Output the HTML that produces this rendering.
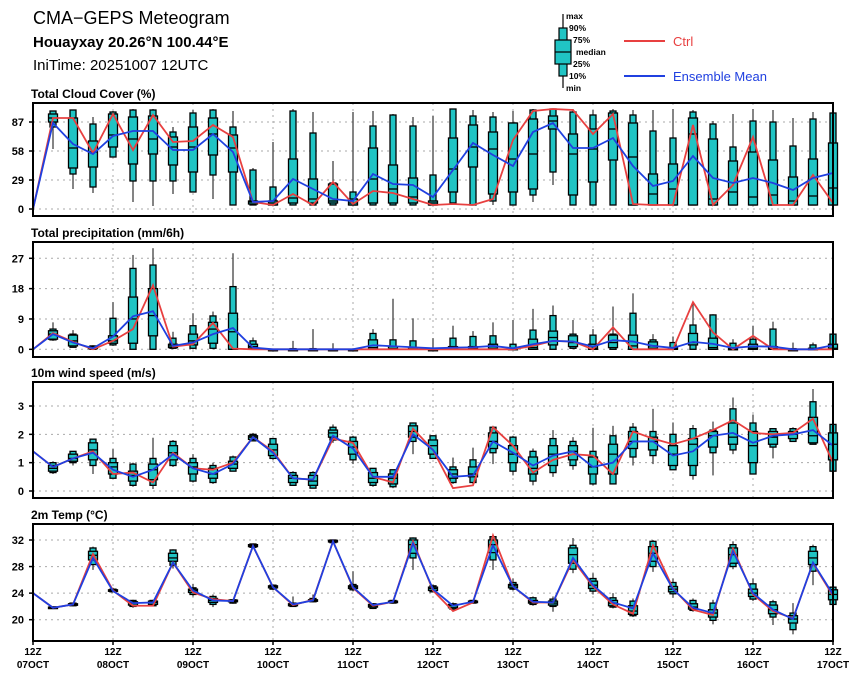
<!DOCTYPE html>
<html><head><meta charset="utf-8"><style>
body{margin:0;background:#fff;font-family:"Liberation Sans",sans-serif}
svg text{font-family:"Liberation Sans",sans-serif}
</style></head><body>
<svg id="c" width="860" height="680" xmlns="http://www.w3.org/2000/svg">
<text x="33" y="24" font-size="18">CMA−GEPS Meteogram</text>
<text x="33" y="47" font-size="15" font-weight="bold">Houayxay 20.26°N 100.44°E</text>
<text x="33" y="70" font-size="15">IniTime: 20251007 12UTC</text>
<g>
 <line x1="563" y1="14" x2="563" y2="88" stroke="#000" stroke-width="1.2"/>
 <rect x="559" y="28" width="8" height="48" fill="#20c4c4" stroke="#000" stroke-width="1.2"/>
 <rect x="555" y="40" width="16" height="24" fill="#20c4c4" stroke="#000" stroke-width="1.2"/>
 <line x1="555" y1="52" x2="571" y2="52" stroke="#000" stroke-width="1.2"/>
 <g font-size="8.5" font-weight="bold">
 <text x="566" y="19">max</text><text x="569" y="31">90%</text><text x="573" y="43">75%</text>
 <text x="576" y="55">median</text><text x="573" y="67">25%</text><text x="569" y="79">10%</text><text x="566" y="91">min</text></g>
 <line x1="624" y1="41" x2="665" y2="41" stroke="#e84040" stroke-width="2"/>
 <text x="673" y="46" font-size="13" fill="#e84040">Ctrl</text>
 <line x1="624" y1="76" x2="665" y2="76" stroke="#2040e0" stroke-width="2"/>
 <text x="673" y="81" font-size="13" fill="#2040e0">Ensemble Mean</text>
</g>
</svg>
<script>
const dayLabels=["07OCT","08OCT","09OCT","10OCT","11OCT","12OCT","13OCT","14OCT","15OCT","16OCT","17OCT"];
const cloudTicks=[0,29,58,87];
const cloudCtrl=[0,91,91,56,95,59,94,67,68,84,72,7,4,15,4,27,5,18,16,10,4,5,4,10,69,98,100,99,75,95,5,4,4,84,4,24,72,4,4,34,6];
const cloudMean=[0,86,65,55,73,78,78,59,59,75,57,7,8,30,20,10,8,35,25,24,12,39,66,54,43,77,86,61,61,71,43,23,28,53,31,26,31,26,19,31,36];
const cloudBox=[null,[60,82,87,91,95,98,98],[20,35,41,61,91,99,99],[16,22,42,57,68,85,92],[52,52,62,74,95,97,98],[7,28,45,70,92,99,100],[3,28,55,70,93,99,100],[15,28,44,62,72,77,82],[17,17,37,62,82,96,99],[10,34,54,75,91,99,100],[4,4,37,61,74,82,98],[4,4,5,7,8,39,41],[4,4,4,6,8,22,67],[4,4,6,11,50,98,100],[4,4,6,10,30,76,97],[4,4,6,8,25,26,48],[4,4,4,6,10,17,97],[4,4,6,30,61,83,98],[4,4,6,20,44,94,95],[4,4,6,12,31,83,92],[4,4,4,6,8,34,93],[4,6,17,40,71,100,100],[4,4,42,62,84,93,99],[4,8,15,60,77,92,97],[4,4,17,50,86,86,98],[7,14,20,55,90,99,100],[24,37,80,88,93,100,100],[4,4,14,55,75,97,100],[4,4,27,60,80,94,99],[4,4,49,80,96,98,100],[4,4,4,52,86,94,99],[4,4,4,15,35,78,99],[4,4,4,20,45,71,100],[4,4,4,75,91,97,99],[4,4,4,10,70,85,88],[4,4,4,17,48,62,95],[4,4,4,12,57,88,100],[4,4,4,14,49,87,99],[4,4,4,8,32,63,91],[4,4,4,13,50,90,97],[4,4,4,21,66,96,96]];
const precTicks=[0,9,18,27];
const precCtrl=[0,4.8,2.2,0,2.5,6,19,0.8,1.5,7.8,0.2,0,0,0,0,0,0,0,0,0,0,0,0,0,0,1,2.5,2.3,0,6.5,0,0,0,14,5,0,4,0,0,0,0];
const precMean=[0,4.5,2,0.3,3.8,9.8,11.3,1,2,4.5,6.3,0.5,0,0,0,0,0,1.2,0.9,0.6,0.3,0.5,0.6,1,0.3,1.5,2.5,2.3,0.8,2.7,2.3,1,0.4,2.2,1.6,0.4,0.9,0.8,0,0,1.2];
const precBox=[null,[2.5,2.8,3,4.5,5.5,6,8],[0.5,0.6,1,2.5,4.2,4.5,5.7],[0,0,0.2,0.5,0.8,1,1.2],[1,1.3,1.8,2.5,4,9.2,14],[0,0,1.8,9,15.5,24,28],[0,0,4,10,18,25,30],[0,0.3,0.5,1,1.5,3.3,5.2],[0,0.3,1.3,2.5,4.5,7,10.7],[0,0.3,1.8,6,8,9.9,11.2],[0,0,0,5.2,10.7,18.6,28.5],[0,0,0.3,0.8,1.5,2.5,3.5],[0,0,0,0,0,0,0.2],[0,0,0,0,0,0.2,2.5],[0,0,0,0,0,0.2,6],[0,0,0,0,0,0,1.8],[0,0,0,0,0,0,0.3],[0,0,0,0.5,2.8,4.7,6],[0,0,0,0.2,0.8,2.8,15],[0,0,0,0,0.5,2.5,9.2],[0,0,0,0,0,0.2,3.3],[0,0,0,0.2,0.8,3.3,7],[0,0,0,0.2,0.8,3.8,5.4],[0,0,0,0.3,1.5,4,8],[0,0,0,0,0.3,1.5,8.7],[0,0,0,0.5,3,5.7,12],[0,0,1.3,3.5,5.4,10,13],[0,0.3,0.8,2,4,4.5,8.7],[0,0,0,0.3,1.5,4.2,6],[0,0,0.5,2,4.2,4.5,12.7],[0,0,0,1,4.2,10.7,16.6],[0,0,0.3,1,2.2,2.8,4.5],[0,0,0,0.2,0.5,2,3.8],[0,0,1.3,2,4.7,7.2,14],[0,0,0,0.5,3.3,10.2,10.4],[0,0,0,0,0.3,1.8,3],[0,0,0,0.3,1.5,3,7],[0,0,0,0.2,0.8,6,8.2],[0,0,0,0,0,0.2,2],[0,0,0,0,0.3,1.3,2],[0,0,0,0.3,1.5,4.5,4.5]];
const windTicks=[0,1,2,3];
const windCtrl=[1.4,0.85,1.15,1.4,0.6,0.65,0.3,1.35,0.8,0.75,1.0,1.9,1.4,0.45,0.4,1.85,1.7,0.5,0.3,2.2,1.45,0.1,0.2,2.25,1.6,0.65,1.1,1.3,1.25,0.6,2.1,1.85,1.65,1.85,2.15,2.5,2.05,2.0,2.05,2.55,1.0];
const windMean=[1.4,0.85,1.15,1.35,0.75,0.5,0.75,1.3,0.8,0.6,0.95,1.9,1.35,0.45,0.4,1.95,1.5,0.5,0.5,2.0,1.45,0.5,0.55,1.75,1.35,0.9,1.25,1.4,0.85,1.0,1.75,1.75,1.25,1.4,1.95,2.05,1.7,1.95,2.0,2.15,1.6];
const windBox=[null,[0.6,0.65,0.7,0.8,0.9,1.0,1.05],[0.9,1.0,1.05,1.15,1.3,1.4,1.4],[0.6,0.9,1.1,1.45,1.7,1.83,1.83],[0.45,0.45,0.6,0.85,1.0,1.15,1.48],[0.15,0.2,0.35,0.55,0.7,0.95,1.0],[0.07,0.2,0.4,0.75,0.95,1.15,1.88],[0.85,0.9,1.1,1.35,1.6,1.75,1.8],[0.3,0.35,0.6,0.85,1.0,1.15,1.3],[0.25,0.3,0.45,0.6,0.8,0.9,1.0],[0.7,0.7,0.8,0.95,1.05,1.2,1.25],[1.75,1.77,1.82,1.9,1.95,2.0,2.05],[1.1,1.15,1.25,1.45,1.65,1.85,1.85],[0.2,0.2,0.3,0.45,0.55,0.65,0.7],[0.1,0.1,0.2,0.35,0.55,0.65,0.7],[1.7,1.8,1.9,2.05,2.15,2.25,2.35],[0.95,1.1,1.3,1.55,1.75,1.9,1.95],[0.15,0.2,0.3,0.45,0.65,0.8,0.8],[0.1,0.15,0.25,0.45,0.6,0.75,0.75],[1.3,1.75,1.9,2.1,2.3,2.4,2.42],[1.15,1.15,1.3,1.6,1.8,1.95,1.95],[0.25,0.3,0.45,0.6,0.75,0.85,1.18],[0.25,0.3,0.5,0.6,0.85,1.1,1.53],[0.95,1.35,1.5,1.75,2.05,2.25,2.3],[0.55,0.7,1.0,1.3,1.6,1.9,1.95],[0.2,0.35,0.6,0.8,1.2,1.4,1.5],[0.5,0.65,0.9,1.3,1.6,1.85,2.15],[0.75,0.9,1.1,1.4,1.6,1.75,1.9],[0.2,0.25,0.6,0.85,1.2,1.4,2.23],[0.25,0.25,0.6,1.3,1.65,1.95,2.3],[0.9,1.2,1.5,1.75,2.1,2.25,2.4],[0.95,1.25,1.45,1.75,1.9,2.1,2.9],[0.75,0.75,0.9,1.3,1.6,2.0,2.42],[0.4,0.55,0.9,1.65,1.85,2.2,2.33],[0.55,1.35,1.55,1.95,2.1,2.15,2.45],[1.3,1.45,1.65,1.9,2.4,2.9,3.3],[0.6,0.6,1.0,1.6,2.1,2.4,2.7],[1.15,1.55,1.65,1.9,2.1,2.2,2.2],[1.75,1.75,1.85,2.0,2.1,2.2,2.25],[1.65,1.65,1.7,1.95,2.6,3.15,3.6],[0.7,0.7,1.1,1.65,2.05,2.35,2.35]];
const tempTicks=[20,24,28,32];
const tempCtrl=[24,21.8,22.3,29.9,24.4,22.1,22.1,28.6,24.1,23.1,22.8,31.1,24.9,22.2,23.0,31.8,24.8,22.1,22.7,31.8,24.4,21.3,22.6,32.7,25.0,22.6,22.6,29.0,25.0,22.3,20.9,31.2,24.7,21.5,20.7,30.7,23.8,21.3,20.2,28.5,23.6];
const tempMean=[24,21.8,22.3,29.3,24.3,22.5,22.6,28.6,24.4,22.9,22.8,31.1,24.9,22.3,22.9,31.8,24.9,22.2,22.7,31.5,24.6,22.1,22.7,31.2,25.0,22.7,22.6,29.3,25.2,22.6,21.7,30.0,24.6,21.8,21.0,30.3,24.0,21.5,20.1,28.6,23.8];
const tempBox=[null,[21.6,21.7,21.75,21.8,21.9,21.95,22],[22,22.1,22.2,22.3,22.4,22.5,22.6],[27.5,28.3,29.0,29.7,30.3,30.8,31],[24.1,24.2,24.3,24.4,24.5,24.6,24.8],[21.8,22,22.2,22.5,22.7,22.9,23],[22.0,22.1,22.3,22.6,22.8,22.9,23.0],[27.7,28.2,28.8,29.3,30.0,30.5,30.6],[23.5,23.8,24.1,24.4,24.6,24.8,25.4],[21.9,22.3,22.6,22.9,23.2,23.5,23.8],[22.4,22.5,22.7,22.8,22.95,23.0,23.1],[30.8,30.9,31.0,31.15,31.3,31.4,31.5],[24.5,24.6,24.8,25,25.1,25.2,25.3],[22,22,22.1,22.3,22.4,22.5,23.5],[22.6,22.7,22.8,22.9,23,23.2,23.8],[31.5,31.6,31.7,31.85,31.95,32,32.1],[24.3,24.5,24.7,24.9,25.1,25.3,27.3],[21.6,21.7,21.9,22.1,22.3,22.4,22.5],[22.4,22.5,22.6,22.7,22.8,22.9,23],[27.5,29.3,30.0,31.3,32.0,32.3,32.4],[24.1,24.2,24.4,24.7,24.9,25.1,25.3],[21.5,21.6,21.8,22.1,22.3,22.4,22.6],[22.4,22.5,22.6,22.7,22.8,22.9,23],[27.5,29.0,30.1,31.3,32.0,32.5,32.7],[24.4,24.6,24.8,25.1,25.3,25.6,26.2],[22.1,22.3,22.5,22.7,22.9,23.3,23.5],[21.2,22.0,22.2,22.5,22.8,23.1,23.5],[27.0,27.6,28.5,29.8,30.8,31.2,32.3],[23.8,24.3,24.7,25.2,25.8,26.2,27],[21.7,21.9,22.1,22.5,22.9,23.3,24],[20.4,20.6,20.8,21.3,22.1,22.8,23.2],[27.2,28.0,28.8,30.0,31.0,31.8,32],[23.3,23.9,24.2,24.6,25.0,25.6,26.2],[21.2,21.4,21.6,21.9,22.4,22.9,23.2],[19.3,19.9,20.4,21,21.5,22.5,23],[27.6,28.0,28.5,29.8,30.8,31.3,31.8],[22.8,23.1,23.5,24,24.6,25.4,26.2],[19.2,20.4,20.9,21.5,22.2,22.7,23],[17.8,18.5,19.5,20.1,20.6,21,22.5],[25.2,27.3,28.3,29.3,30.3,31,31.3],[22,22.3,23.0,23.8,24.5,24.9,25]];

const NS="http://www.w3.org/2000/svg";
const svg=document.getElementById('c');
const X0=33,X1=833,NSTEP=40;
function xs(i){return X0+(X1-X0)*i/NSTEP;}
function mk(tag,attrs,parent){const e=document.createElementNS(NS,tag);for(const k in attrs)e.setAttribute(k,attrs[k]);(parent||svg).appendChild(e);return e;}

function panel(key,title,top,bottom,v0,y0,v1,y1,ticks,ctrl,mean,box){
  const ys=v=>y0+(v-v0)*(y1-y0)/(v1-v0);
  const g=mk('g',{});
  
  
  const t=mk('text',{x:31,y:top-5,'font-size':12,'font-weight':'bold'},g);
  t.textContent=title;
  
  
  for(let d=1;d<dayLabels.length-1;d++){
    const gl=mk('line',{x1:xs(d*4),x2:xs(d*4),y1:top,y2:bottom,stroke:'#aaa','stroke-width':1,'stroke-dasharray':'2,4'},g);
    
    
  }
  ticks.forEach(v=>{
    const y=ys(v);
    const gl=mk('line',{x1:X0,x2:X1,y1:y,y2:y,stroke:'#aaa','stroke-width':1,'stroke-dasharray':'2,4'},g);
    
    
    const tk=mk('line',{x1:X0-4,x2:X0,y1:y,y2:y,stroke:'#000','stroke-width':1.5},g);
    
    
    const tl=mk('text',{x:24,y:y+4,'font-size':11,'font-weight':'bold','text-anchor':'end'},g);
    tl.textContent=v;
    
    
  });
  box.forEach((b,i)=>{
    if(!b)return;
    const x=xs(i);
    const bg=mk('g',{},g);
    
    
    mk('line',{x1:x,x2:x,y1:ys(b[0]),y2:ys(b[6]),stroke:'#333','stroke-width':1.2},bg);
    const a=ys(b[5]),c=ys(b[1]);
    mk('rect',{x:x-3,y:a,width:6,height:Math.max(c-a,1.5),fill:'#20c4c4',stroke:'#000','stroke-width':1.3},bg);
    const p=ys(b[4]),q=ys(b[2]);
    mk('rect',{x:x-4.5,y:p,width:9,height:Math.max(q-p,1.5),fill:'#20c4c4',stroke:'#000','stroke-width':1.3},bg);
    mk('line',{x1:x-4.5,x2:x+4.5,y1:ys(b[3]),y2:ys(b[3]),stroke:'#000','stroke-width':1.3},bg);
  });
  const pc=mk('polyline',{points:ctrl.map((v,i)=>xs(i)+','+ys(v)).join(' '),fill:'none',stroke:'#e84040','stroke-width':1.8},g);
  
  
  const pm=mk('polyline',{points:mean.map((v,i)=>xs(i)+','+ys(v)).join(' '),fill:'none',stroke:'#2040e0','stroke-width':1.8},g);
  
  
  const fr=mk('rect',{x:X0,y:top,width:X1-X0,height:bottom-top,fill:'none',stroke:'#000','stroke-width':2},g);
  
  
}
panel('cloud','Total Cloud Cover (%)',103,216,0,209,87,122,cloudTicks,cloudCtrl,cloudMean,cloudBox);
panel('precip','Total precipitation (mm/6h)',242,357,0,349.3,27,258.3,precTicks,precCtrl,precMean,precBox);
panel('wind','10m wind speed (m/s)',382,498,0,491,3,406,windTicks,windCtrl,windMean,windBox);
panel('temp','2m Temp (°C)',524,641,20,619.7,32,540,tempTicks,tempCtrl,tempMean,tempBox);

dayLabels.forEach((d,k)=>{
  const x=xs(k*4);
  const tk=mk('line',{x1:x,x2:x,y1:641,y2:645,stroke:'#000','stroke-width':1.5});
  
  
  const t1=mk('text',{x:x,y:655,'font-size':10,'font-weight':'bold','text-anchor':'middle'});
  t1.textContent='12Z';
  
  
  const t2=mk('text',{x:x,y:668,'font-size':10,'font-weight':'bold','text-anchor':'middle'});
  t2.textContent=d;
  
  
});
</script>
</body></html>
